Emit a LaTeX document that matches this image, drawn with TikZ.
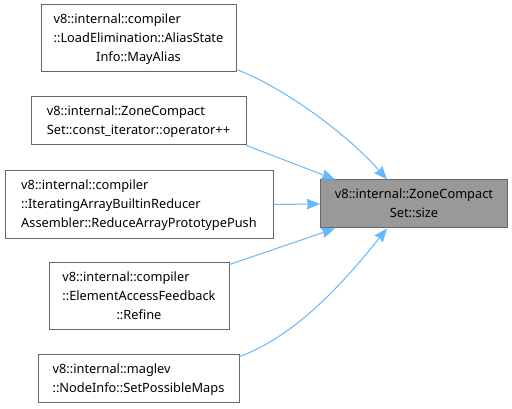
\documentclass[tikz,border=0pt]{standalone}
\usepackage{fontspec}
\setmainfont{Noto Sans}
\usetikzlibrary{arrows.meta,calc}
\definecolor{edgecol}{HTML}{63B8FF}
\definecolor{boxline}{HTML}{666666}
\definecolor{hilite}{HTML}{999999}
\newcommand{\lastc}[1]{\multicolumn{1}{@{}c@{}}{#1}}
\begin{document}
\begin{tikzpicture}[x=0.75pt,y=-0.75pt,
  box/.style={draw=boxline, fill=white, inner sep=0pt, line width=0.75pt,
    font=\fontsize{9.6}{14.2}\selectfont},
  conn/.style={draw=edgecol, line width=0.75pt, -{Stealth[length=10pt,width=8pt,inset=1pt]}}]
\useasboundingbox (0,0) rectangle (512,409);
\node[box, minimum width=146.25pt, minimum height=50.25pt] (b1) at (138.5,38.5)
  {\begin{tabular}{@{}l@{}}v8::internal::compiler\\::LoadElimination::AliasState\\\lastc{Info::MayAlias}\end{tabular}};
\node[box, minimum width=161.25pt, minimum height=36pt] (b2) at (138.5,121)
  {\begin{tabular}{@{}l@{}}v8::internal::ZoneCompact\\\lastc{Set::const\_iterator::operator++}\end{tabular}};
\node[box, minimum width=201pt, minimum height=50.6pt] (b3) at (139,204.5)
  {\begin{tabular}{@{}l@{}}v8::internal::compiler\\::IteratingArrayBuiltinReducer\\\lastc{Assembler::ReduceArrayPrototypePush}\end{tabular}};
\node[box, minimum width=135pt, minimum height=50.25pt] (b4) at (139,296.5)
  {\begin{tabular}{@{}l@{}}v8::internal::compiler\\::ElementAccessFeedback\\\lastc{::Refine}\end{tabular}};
\node[box, minimum width=150.75pt, minimum height=36pt] (b5) at (138.5,379)
  {\begin{tabular}{@{}l@{}}v8::internal::maglev\\\lastc{::NodeInfo::SetPossibleMaps}\end{tabular}};
\node[box, fill=hilite, minimum width=140.25pt, minimum height=36pt] (t) at (414,204)
  {\begin{tabular}{@{}l@{}}v8::internal::ZoneCompact\\\lastc{Set::size}\end{tabular}};
\draw[conn] ([yshift=2.25pt]b1.south east) .. controls (285,88) and (348,135) .. ($(t.north)+(-27,0)$);
\draw[conn] (b2.south east) -- ($(t.north west)+(15,0)$);
\draw[conn] (b3.east) -- (t.west);
\draw[conn] ([yshift=-1.5pt]b4.north east) -- ($(t.south west)+(15,0)$);
\draw[conn] ([yshift=-1.5pt]b5.north east) .. controls (300,335) and (352,272) .. ($(t.south)+(-27,0)$);
\end{tikzpicture}
\end{document}
